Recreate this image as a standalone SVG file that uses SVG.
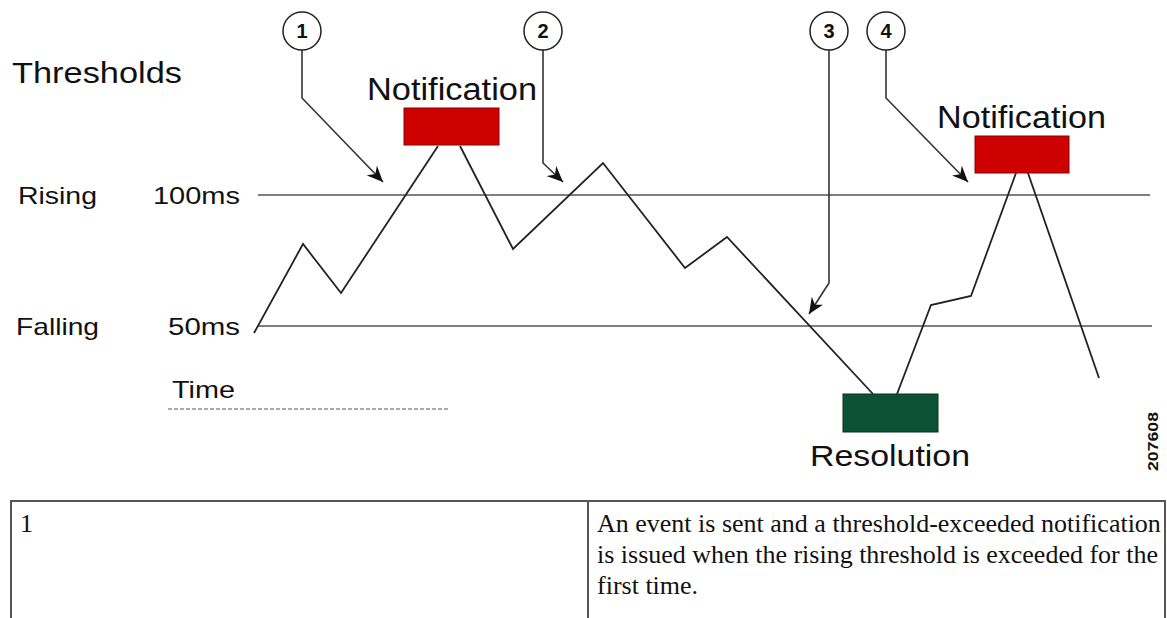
<svg xmlns="http://www.w3.org/2000/svg" width="1167" height="618" viewBox="0 0 1167 618">
<style>
.lbl{font-family:"Liberation Sans",Arial,sans-serif;fill:#111}
.num{font-family:"Liberation Sans",Arial,sans-serif;font-weight:bold;font-size:20px;fill:#111;text-anchor:middle}
.circ{fill:#fff;stroke:#222;stroke-width:1.5}
.call{fill:none;stroke:#333;stroke-width:1.6}
.thr{stroke:#555;stroke-width:1.5}
.trace{fill:none;stroke:#222;stroke-width:1.8;stroke-linejoin:miter}
.red{fill:#cf0000;stroke:#8a0000;stroke-width:1}
.green{fill:#0b5234;stroke:#08301f;stroke-width:1}
.tbl{stroke:#555;stroke-width:2;fill:none}
.body{font-family:"Liberation Serif","Times New Roman",serif;font-size:26px;fill:#111}
</style>
<defs>
<marker id="ah" markerUnits="userSpaceOnUse" markerWidth="18" markerHeight="14" refX="16" refY="7" orient="auto">
<path d="M0,0 L16,7 L0,14 L5,7 z" fill="#111"/>
</marker>
</defs>
<rect width="1167" height="618" fill="#fff"/>

<g id="axis-labels">
<text class="lbl" x="12" y="83" font-size="29" textLength="170" lengthAdjust="spacingAndGlyphs">Thresholds</text>
<text class="lbl" x="18" y="204" font-size="24" textLength="79" lengthAdjust="spacingAndGlyphs">Rising</text>
<text class="lbl" x="153" y="204" font-size="24" textLength="87" lengthAdjust="spacingAndGlyphs">100ms</text>
<text class="lbl" x="16" y="335" font-size="24" textLength="83" lengthAdjust="spacingAndGlyphs">Falling</text>
<text class="lbl" x="168" y="335" font-size="24" textLength="72" lengthAdjust="spacingAndGlyphs">50ms</text>
<text class="lbl" x="172" y="398" font-size="24" textLength="63" lengthAdjust="spacingAndGlyphs">Time</text>
<line x1="168" y1="409" x2="448" y2="409" stroke="#aaa" stroke-width="2" stroke-dasharray="4 2"/>
</g>

<g id="thresholds">
<line class="thr" x1="258" y1="195" x2="1150" y2="195"/>
<line class="thr" x1="258" y1="326" x2="1152" y2="326"/>
</g>

<g id="connectors">
<polyline class="trace" points="254,333 303,244 341,293 438,146"/>
<polyline class="trace" points="460,146 513,249 603,163 685,268 727,237 873,394"/>
<polyline class="trace" points="897,394 931,305 971,296 1016,173"/>
<polyline class="trace" points="1028,173 1099,378"/>
<path class="call" d="M302,50 V98 L383,182" marker-end="url(#ah)"/>
<path class="call" d="M543,50 V163 L563,182" marker-end="url(#ah)"/>
<path class="call" d="M829,50 V283 L809,314" marker-end="url(#ah)"/>
<path class="call" d="M886,50 V98 L968,182" marker-end="url(#ah)"/>
</g>

<g id="notification1">
<rect class="red" x="404" y="108" width="95" height="37"/>
<text class="lbl" x="367" y="100" font-size="31" textLength="170" lengthAdjust="spacingAndGlyphs">Notification</text>
</g>
<g id="notification2">
<rect class="red" x="975" y="136" width="94" height="37"/>
<text class="lbl" x="937" y="128" font-size="31" textLength="169" lengthAdjust="spacingAndGlyphs">Notification</text>
</g>
<g id="resolution">
<rect class="green" x="843" y="394" width="95" height="38"/>
<text class="lbl" x="810" y="466" font-size="30" textLength="160" lengthAdjust="spacingAndGlyphs">Resolution</text>
</g>

<g id="callout1"><circle class="circ" cx="302" cy="31" r="19"/><text class="num" x="302" y="38">1</text></g>
<g id="callout2"><circle class="circ" cx="543" cy="31" r="19"/><text class="num" x="543" y="38">2</text></g>
<g id="callout3"><circle class="circ" cx="829" cy="31" r="19"/><text class="num" x="829" y="38">3</text></g>
<g id="callout4"><circle class="circ" cx="886" cy="31" r="19"/><text class="num" x="886" y="38">4</text></g>

<g id="figure-id">
<text class="lbl" transform="translate(1158,471) rotate(-90)" font-size="14" font-weight="bold" textLength="59" lengthAdjust="spacingAndGlyphs">207608</text>
</g>

<g id="legend-table">
<path class="tbl" d="M11,618 V501 H1165 V618 M588,501 V618"/>
<text class="body" x="20" y="532">1</text>
<text class="body" x="597" y="532">An event is sent and a threshold-exceeded notification</text>
<text class="body" x="597" y="563">is issued when the rising threshold is exceeded for the</text>
<text class="body" x="597" y="594">first time.</text>
</g>
</svg>
